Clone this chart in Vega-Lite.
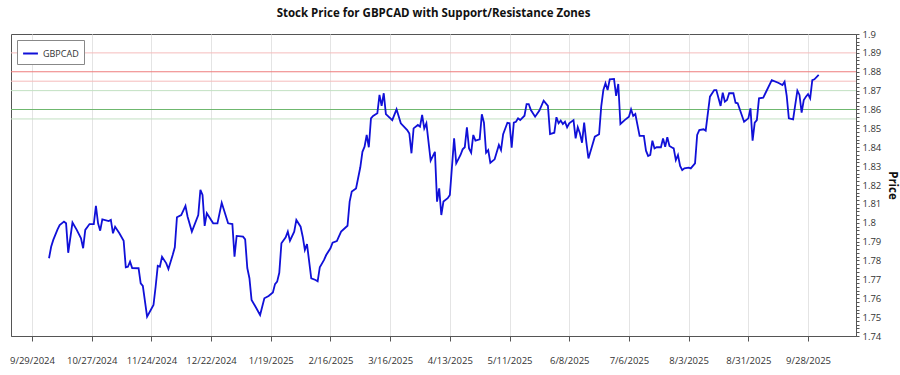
{
  "$schema": "https://vega.github.io/schema/vega-lite/v6.json",
  "autosize": {"type": "none"},
  "padding": {"left": 11, "top": 34, "right": 44, "bottom": 39},
  "width": 845,
  "height": 302,
  "title": {"text": "Stock Price for GBPCAD with Support/Resistance Zones", "fontSize": 11.5, "fontWeight": "bold", "font": "Open Sans", "color": "#111", "anchor": "middle", "offset": 10},
  "config": {"font": "Open Sans", "view": {"stroke": "#555", "strokeWidth": 1}},
  "datasets": {
    "levels": [
      {"level": 1.89, "zone": "resistance band"},
      {"level": 1.88, "zone": "resistance"},
      {"level": 1.875, "zone": "resistance band"},
      {"level": 1.87, "zone": "support band"},
      {"level": 1.86, "zone": "support"},
      {"level": 1.855, "zone": "support band"}
    ],
    "prices": [
      {"date": "2024/10/07", "price": 1.7812},
      {"date": "2024/10/08", "price": 1.7873},
      {"date": "2024/10/09", "price": 1.7909},
      {"date": "2024/10/11", "price": 1.7965},
      {"date": "2024/10/12", "price": 1.7988},
      {"date": "2024/10/14", "price": 1.8006},
      {"date": "2024/10/15", "price": 1.7997},
      {"date": "2024/10/16", "price": 1.7841},
      {"date": "2024/10/18", "price": 1.8001},
      {"date": "2024/10/20", "price": 1.7962},
      {"date": "2024/10/22", "price": 1.7918},
      {"date": "2024/10/23", "price": 1.7865},
      {"date": "2024/10/24", "price": 1.7962},
      {"date": "2024/10/26", "price": 1.7993},
      {"date": "2024/10/28", "price": 1.7993},
      {"date": "2024/10/29", "price": 1.8089},
      {"date": "2024/10/30", "price": 1.7997},
      {"date": "2024/10/31", "price": 1.7958},
      {"date": "2024/11/01", "price": 1.8018},
      {"date": "2024/11/04", "price": 1.8009},
      {"date": "2024/11/05", "price": 1.8015},
      {"date": "2024/11/06", "price": 1.7944},
      {"date": "2024/11/07", "price": 1.7979},
      {"date": "2024/11/09", "price": 1.7944},
      {"date": "2024/11/11", "price": 1.7905},
      {"date": "2024/11/12", "price": 1.7764},
      {"date": "2024/11/13", "price": 1.7767},
      {"date": "2024/11/14", "price": 1.7794},
      {"date": "2024/11/15", "price": 1.776},
      {"date": "2024/11/18", "price": 1.7759},
      {"date": "2024/11/19", "price": 1.7679},
      {"date": "2024/11/20", "price": 1.7665},
      {"date": "2024/11/22", "price": 1.7502},
      {"date": "2024/11/25", "price": 1.7564},
      {"date": "2024/11/26", "price": 1.7661},
      {"date": "2024/11/27", "price": 1.7772},
      {"date": "2024/11/28", "price": 1.7767},
      {"date": "2024/11/29", "price": 1.782},
      {"date": "2024/12/01", "price": 1.7785},
      {"date": "2024/12/02", "price": 1.7755},
      {"date": "2024/12/04", "price": 1.7829},
      {"date": "2024/12/05", "price": 1.787},
      {"date": "2024/12/06", "price": 1.8029},
      {"date": "2024/12/08", "price": 1.8041},
      {"date": "2024/12/10", "price": 1.8089},
      {"date": "2024/12/11", "price": 1.8032},
      {"date": "2024/12/13", "price": 1.7953},
      {"date": "2024/12/16", "price": 1.8041},
      {"date": "2024/12/17", "price": 1.8174},
      {"date": "2024/12/18", "price": 1.8147},
      {"date": "2024/12/19", "price": 1.7983},
      {"date": "2024/12/20", "price": 1.805},
      {"date": "2024/12/23", "price": 1.7997},
      {"date": "2024/12/25", "price": 1.7997},
      {"date": "2024/12/27", "price": 1.8106},
      {"date": "2024/12/30", "price": 1.7997},
      {"date": "2025/01/01", "price": 1.7993},
      {"date": "2025/01/02", "price": 1.782},
      {"date": "2025/01/03", "price": 1.793},
      {"date": "2025/01/06", "price": 1.7926},
      {"date": "2025/01/07", "price": 1.7912},
      {"date": "2025/01/08", "price": 1.776},
      {"date": "2025/01/09", "price": 1.7706},
      {"date": "2025/01/10", "price": 1.7591},
      {"date": "2025/01/12", "price": 1.7552},
      {"date": "2025/01/14", "price": 1.7511},
      {"date": "2025/01/16", "price": 1.76},
      {"date": "2025/01/18", "price": 1.7612},
      {"date": "2025/01/20", "price": 1.7631},
      {"date": "2025/01/21", "price": 1.7675},
      {"date": "2025/01/22", "price": 1.7688},
      {"date": "2025/01/23", "price": 1.7735},
      {"date": "2025/01/24", "price": 1.7891},
      {"date": "2025/01/26", "price": 1.7923},
      {"date": "2025/01/27", "price": 1.7953},
      {"date": "2025/01/28", "price": 1.7905},
      {"date": "2025/01/30", "price": 1.7953},
      {"date": "2025/01/31", "price": 1.8015},
      {"date": "2025/02/02", "price": 1.7979},
      {"date": "2025/02/03", "price": 1.7926},
      {"date": "2025/02/04", "price": 1.7856},
      {"date": "2025/02/05", "price": 1.7887},
      {"date": "2025/02/07", "price": 1.7706},
      {"date": "2025/02/09", "price": 1.7697},
      {"date": "2025/02/10", "price": 1.769},
      {"date": "2025/02/11", "price": 1.7764},
      {"date": "2025/02/13", "price": 1.7803},
      {"date": "2025/02/14", "price": 1.7829},
      {"date": "2025/02/16", "price": 1.7865},
      {"date": "2025/02/17", "price": 1.7894},
      {"date": "2025/02/19", "price": 1.7903},
      {"date": "2025/02/21", "price": 1.7953},
      {"date": "2025/02/24", "price": 1.7984},
      {"date": "2025/02/25", "price": 1.8112},
      {"date": "2025/02/26", "price": 1.8165},
      {"date": "2025/02/28", "price": 1.8182},
      {"date": "2025/03/02", "price": 1.8294},
      {"date": "2025/03/03", "price": 1.8376},
      {"date": "2025/03/04", "price": 1.8403},
      {"date": "2025/03/05", "price": 1.8465},
      {"date": "2025/03/06", "price": 1.84},
      {"date": "2025/03/07", "price": 1.8553},
      {"date": "2025/03/08", "price": 1.8566},
      {"date": "2025/03/10", "price": 1.858},
      {"date": "2025/03/11", "price": 1.8677},
      {"date": "2025/03/12", "price": 1.8619},
      {"date": "2025/03/13", "price": 1.8686},
      {"date": "2025/03/14", "price": 1.8576},
      {"date": "2025/03/17", "price": 1.8544},
      {"date": "2025/03/19", "price": 1.8601},
      {"date": "2025/03/21", "price": 1.8527},
      {"date": "2025/03/24", "price": 1.8491},
      {"date": "2025/03/25", "price": 1.8473},
      {"date": "2025/03/26", "price": 1.8368},
      {"date": "2025/03/27", "price": 1.85},
      {"date": "2025/03/29", "price": 1.8518},
      {"date": "2025/03/30", "price": 1.8509},
      {"date": "2025/03/31", "price": 1.8571},
      {"date": "2025/04/01", "price": 1.85},
      {"date": "2025/04/02", "price": 1.8527},
      {"date": "2025/04/04", "price": 1.8329},
      {"date": "2025/04/06", "price": 1.8376},
      {"date": "2025/04/07", "price": 1.8112},
      {"date": "2025/04/08", "price": 1.8182},
      {"date": "2025/04/09", "price": 1.8041},
      {"date": "2025/04/10", "price": 1.8112},
      {"date": "2025/04/12", "price": 1.813},
      {"date": "2025/04/13", "price": 1.8147},
      {"date": "2025/04/15", "price": 1.8447},
      {"date": "2025/04/16", "price": 1.8315},
      {"date": "2025/04/18", "price": 1.8359},
      {"date": "2025/04/19", "price": 1.8389},
      {"date": "2025/04/20", "price": 1.84},
      {"date": "2025/04/21", "price": 1.8506},
      {"date": "2025/04/22", "price": 1.8394},
      {"date": "2025/04/23", "price": 1.8371},
      {"date": "2025/04/24", "price": 1.8465},
      {"date": "2025/04/25", "price": 1.8435},
      {"date": "2025/04/27", "price": 1.8442},
      {"date": "2025/04/28", "price": 1.8575},
      {"date": "2025/04/29", "price": 1.853},
      {"date": "2025/04/30", "price": 1.8371},
      {"date": "2025/05/01", "price": 1.8385},
      {"date": "2025/05/02", "price": 1.8318},
      {"date": "2025/05/04", "price": 1.8336},
      {"date": "2025/05/06", "price": 1.8412},
      {"date": "2025/05/07", "price": 1.8385},
      {"date": "2025/05/08", "price": 1.8469},
      {"date": "2025/05/10", "price": 1.853},
      {"date": "2025/05/11", "price": 1.8527},
      {"date": "2025/05/12", "price": 1.8398},
      {"date": "2025/05/13", "price": 1.853},
      {"date": "2025/05/14", "price": 1.8535},
      {"date": "2025/05/15", "price": 1.8553},
      {"date": "2025/05/16", "price": 1.8544},
      {"date": "2025/05/18", "price": 1.8567},
      {"date": "2025/05/19", "price": 1.8629},
      {"date": "2025/05/20", "price": 1.8629},
      {"date": "2025/05/21", "price": 1.8597},
      {"date": "2025/05/23", "price": 1.8562},
      {"date": "2025/05/25", "price": 1.8594},
      {"date": "2025/05/27", "price": 1.8647},
      {"date": "2025/05/29", "price": 1.8619},
      {"date": "2025/05/30", "price": 1.847},
      {"date": "2025/06/01", "price": 1.8477},
      {"date": "2025/06/02", "price": 1.8559},
      {"date": "2025/06/03", "price": 1.8527},
      {"date": "2025/06/04", "price": 1.8541},
      {"date": "2025/06/05", "price": 1.8523},
      {"date": "2025/06/06", "price": 1.8535},
      {"date": "2025/06/07", "price": 1.8506},
      {"date": "2025/06/08", "price": 1.8527},
      {"date": "2025/06/10", "price": 1.8544},
      {"date": "2025/06/11", "price": 1.8447},
      {"date": "2025/06/12", "price": 1.8506},
      {"date": "2025/06/13", "price": 1.8474},
      {"date": "2025/06/14", "price": 1.8424},
      {"date": "2025/06/15", "price": 1.853},
      {"date": "2025/06/16", "price": 1.8429},
      {"date": "2025/06/17", "price": 1.8341},
      {"date": "2025/06/19", "price": 1.8417},
      {"date": "2025/06/20", "price": 1.8456},
      {"date": "2025/06/22", "price": 1.8469},
      {"date": "2025/06/23", "price": 1.8615},
      {"date": "2025/06/24", "price": 1.8703},
      {"date": "2025/06/25", "price": 1.8739},
      {"date": "2025/06/26", "price": 1.8703},
      {"date": "2025/06/27", "price": 1.876},
      {"date": "2025/06/29", "price": 1.8762},
      {"date": "2025/06/30", "price": 1.8672},
      {"date": "2025/07/01", "price": 1.8735},
      {"date": "2025/07/02", "price": 1.8523},
      {"date": "2025/07/04", "price": 1.8544},
      {"date": "2025/07/06", "price": 1.8562},
      {"date": "2025/07/07", "price": 1.8601},
      {"date": "2025/07/08", "price": 1.8566},
      {"date": "2025/07/09", "price": 1.8576},
      {"date": "2025/07/11", "price": 1.846},
      {"date": "2025/07/13", "price": 1.846},
      {"date": "2025/07/14", "price": 1.8382},
      {"date": "2025/07/15", "price": 1.8354},
      {"date": "2025/07/16", "price": 1.8359},
      {"date": "2025/07/17", "price": 1.8435},
      {"date": "2025/07/18", "price": 1.8394},
      {"date": "2025/07/19", "price": 1.84},
      {"date": "2025/07/21", "price": 1.84},
      {"date": "2025/07/22", "price": 1.8447},
      {"date": "2025/07/23", "price": 1.8403},
      {"date": "2025/07/24", "price": 1.8453},
      {"date": "2025/07/25", "price": 1.8407},
      {"date": "2025/07/26", "price": 1.84},
      {"date": "2025/07/27", "price": 1.8394},
      {"date": "2025/07/28", "price": 1.8332},
      {"date": "2025/07/29", "price": 1.8359},
      {"date": "2025/07/30", "price": 1.8301},
      {"date": "2025/07/31", "price": 1.8279},
      {"date": "2025/08/01", "price": 1.8288},
      {"date": "2025/08/03", "price": 1.8292},
      {"date": "2025/08/04", "price": 1.8288},
      {"date": "2025/08/06", "price": 1.8315},
      {"date": "2025/08/07", "price": 1.8465},
      {"date": "2025/08/08", "price": 1.8491},
      {"date": "2025/08/10", "price": 1.8495},
      {"date": "2025/08/11", "price": 1.8488},
      {"date": "2025/08/13", "price": 1.8668},
      {"date": "2025/08/15", "price": 1.8703},
      {"date": "2025/08/16", "price": 1.8703},
      {"date": "2025/08/18", "price": 1.8619},
      {"date": "2025/08/19", "price": 1.8689},
      {"date": "2025/08/20", "price": 1.8641},
      {"date": "2025/08/21", "price": 1.865},
      {"date": "2025/08/22", "price": 1.8686},
      {"date": "2025/08/24", "price": 1.8686},
      {"date": "2025/08/25", "price": 1.8636},
      {"date": "2025/08/26", "price": 1.8633},
      {"date": "2025/08/29", "price": 1.8535},
      {"date": "2025/08/31", "price": 1.8553},
      {"date": "2025/09/01", "price": 1.8606},
      {"date": "2025/09/02", "price": 1.8435},
      {"date": "2025/09/03", "price": 1.853},
      {"date": "2025/09/04", "price": 1.8544},
      {"date": "2025/09/05", "price": 1.8659},
      {"date": "2025/09/07", "price": 1.8663},
      {"date": "2025/09/08", "price": 1.8686},
      {"date": "2025/09/11", "price": 1.8756},
      {"date": "2025/09/14", "price": 1.8742},
      {"date": "2025/09/16", "price": 1.873},
      {"date": "2025/09/17", "price": 1.8747},
      {"date": "2025/09/18", "price": 1.8672},
      {"date": "2025/09/19", "price": 1.8553},
      {"date": "2025/09/21", "price": 1.8548},
      {"date": "2025/09/22", "price": 1.8624},
      {"date": "2025/09/23", "price": 1.87},
      {"date": "2025/09/24", "price": 1.8677},
      {"date": "2025/09/25", "price": 1.8583},
      {"date": "2025/09/26", "price": 1.865},
      {"date": "2025/09/27", "price": 1.8668},
      {"date": "2025/09/28", "price": 1.8681},
      {"date": "2025/09/29", "price": 1.8659},
      {"date": "2025/09/30", "price": 1.8756},
      {"date": "2025/10/01", "price": 1.876},
      {"date": "2025/10/03", "price": 1.8783}
    ]
  },
  "encoding": {
    "y": {
      "type": "quantitative",
      "scale": {"domain": [1.74, 1.9], "zero": false, "nice": false},
      "axis": {
        "orient": "right",
        "title": "Price",
        "titleAngle": 90,
        "titleFontSize": 11.5,
        "titleFontWeight": "bold",
        "titleColor": "#111",
        "titlePadding": 6,
        "grid": false,
        "domain": true,
        "domainColor": "#555",
        "tickColor": "#555",
        "tickSize": 3,
        "labelFontSize": 9.5,
        "labelColor": "#333",
        "labelPadding": 3,
        "labelExpr": "abs(datum.value*100 - round(datum.value*100)) < 0.01 ? toString(round(datum.value*100)/100) : ''",
        "values": [1.74,1.742,1.744,1.746,1.748,1.75,1.752,1.754,1.756,1.758,1.76,1.762,1.764,1.766,1.768,1.77,1.772,1.774,1.776,1.778,1.78,1.782,1.784,1.786,1.788,1.79,1.792,1.794,1.796,1.798,1.8,1.802,1.804,1.806,1.808,1.81,1.812,1.814,1.816,1.818,1.82,1.822,1.824,1.826,1.828,1.83,1.832,1.834,1.836,1.838,1.84,1.842,1.844,1.846,1.848,1.85,1.852,1.854,1.856,1.858,1.86,1.862,1.864,1.866,1.868,1.87,1.872,1.874,1.876,1.878,1.88,1.882,1.884,1.886,1.888,1.89,1.892,1.894,1.896,1.898,1.9]
      }
    }
  },
  "layer": [
    {
      "data": {"name": "levels"},
      "transform": [{"filter": "datum.zone === 'resistance band'"}],
      "mark": {"type": "rule", "strokeWidth": 1, "color": "#f5bcbc"},
      "encoding": {"y": {"field": "level", "type": "quantitative"}}
    },
    {
      "data": {"name": "levels"},
      "transform": [{"filter": "datum.zone === 'support band'"}],
      "mark": {"type": "rule", "strokeWidth": 1, "color": "#c2e0c2"},
      "encoding": {"y": {"field": "level", "type": "quantitative"}}
    },
    {
      "data": {"name": "levels"},
      "transform": [{"filter": "datum.zone === 'resistance'"}],
      "mark": {"type": "rule", "strokeWidth": 1, "color": "#ee7d7d"},
      "encoding": {"y": {"field": "level", "type": "quantitative"}}
    },
    {
      "data": {"name": "levels"},
      "transform": [{"filter": "datum.zone === 'support'"}],
      "mark": {"type": "rule", "strokeWidth": 1, "color": "#6fb86f"},
      "encoding": {"y": {"field": "level", "type": "quantitative"}}
    },
    {
      "data": {"name": "prices"},
      "mark": {"type": "line", "strokeWidth": 1.8, "interpolate": "linear"},
      "encoding": {
        "x": {
          "field": "date",
          "type": "temporal",
          "scale": {"domain": [{"year": 2024, "month": 9, "date": 19, "hours": 4}, {"year": 2025, "month": 10, "date": 20, "hours": 12}]},
          "axis": {
            "title": null,
            "format": "%-m/%-d/%Y",
            "values": [
              {"year": 2024, "month": 9, "date": 29},
              {"year": 2024, "month": 10, "date": 27},
              {"year": 2024, "month": 11, "date": 24},
              {"year": 2024, "month": 12, "date": 22},
              {"year": 2025, "month": 1, "date": 19},
              {"year": 2025, "month": 2, "date": 16},
              {"year": 2025, "month": 3, "date": 16},
              {"year": 2025, "month": 4, "date": 13},
              {"year": 2025, "month": 5, "date": 11},
              {"year": 2025, "month": 6, "date": 8},
              {"year": 2025, "month": 7, "date": 6},
              {"year": 2025, "month": 8, "date": 3},
              {"year": 2025, "month": 8, "date": 31},
              {"year": 2025, "month": 9, "date": 28}
            ],
            "grid": true,
            "gridColor": "#e4e4e4",
            "domainColor": "#555",
            "tickColor": "#555",
            "tickSize": 5,
            "labelPadding": 14,
            "labelFontSize": 9.5,
            "labelColor": "#333",
            "labelFlush": false
          }
        },
        "y": {"field": "price", "type": "quantitative"},
        "color": {
          "datum": "GBPCAD",
          "scale": {"range": ["#1010d8"]},
          "legend": {
            "title": null,
            "orient": "top-left",
            "offset": 6,
            "padding": 5,
            "strokeColor": "#888",
            "fillColor": "white",
            "symbolType": "stroke",
            "symbolStrokeWidth": 2,
            "symbolSize": 220,
            "labelFontSize": 9,
            "labelColor": "#333"
          }
        }
      }
    }
  ]
}
